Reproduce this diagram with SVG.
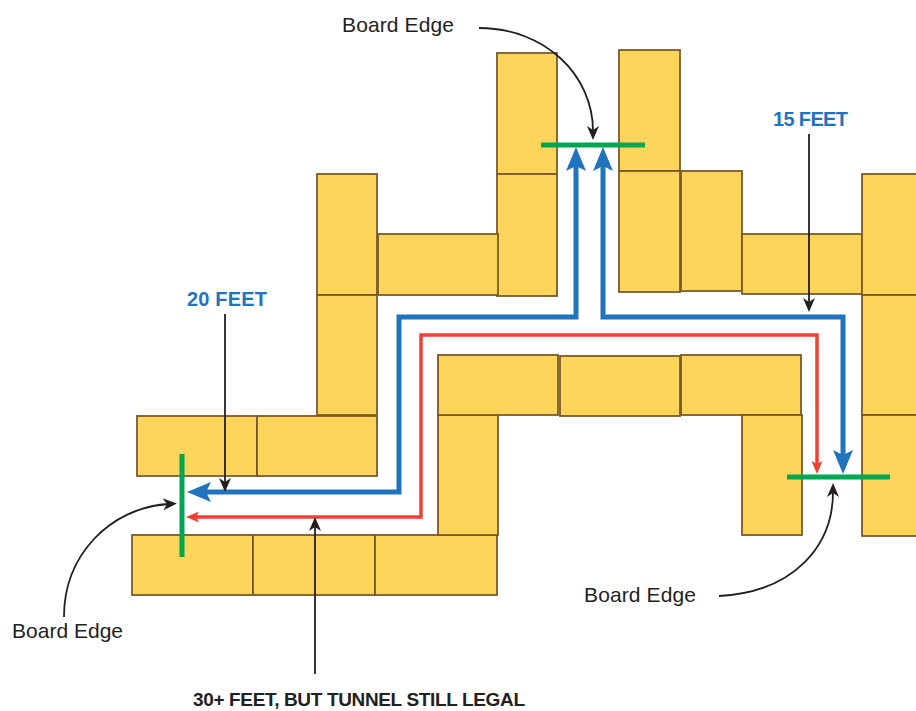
<svg xmlns="http://www.w3.org/2000/svg" width="916" height="711" viewBox="0 0 916 711">
<style>
.blk{fill:#FED55B;stroke:#7A5A2B;stroke-width:1.8}
.edge{stroke:#00A651;stroke-width:5;fill:none}
.blue{stroke:#1F74BD;stroke-width:5;fill:none;stroke-linejoin:miter}
.red{stroke:#EF4136;stroke-width:3.5;fill:none;stroke-linejoin:miter}
.ann{stroke:#231F20;stroke-width:1.8;fill:none}
.lbl{font-family:"Liberation Sans",Arial,sans-serif;font-size:21px;fill:#231F20}
.ft{font-family:"Liberation Sans",Arial,sans-serif;font-size:20px;font-weight:bold;fill:#1F74BD}
.bt{font-family:"Liberation Sans",Arial,sans-serif;font-size:19px;font-weight:bold;fill:#231F20}
</style>
<defs>
<marker id="ab" viewBox="-24 -10 24 20" markerWidth="24" markerHeight="20" refX="-17" refY="0" markerUnits="userSpaceOnUse" orient="auto-start-reverse"><path d="M0,0 L-24,-10 L-19,0 L-24,10 Z" fill="#1F74BD"/></marker>
<marker id="ar" viewBox="-13 -5.5 13 11" markerWidth="13" markerHeight="11" refX="-9" refY="0" markerUnits="userSpaceOnUse" orient="auto-start-reverse"><path d="M0,0 L-13,-5.5 L-10,0 L-13,5.5 Z" fill="#EF4136"/></marker>
<marker id="ak" viewBox="-14 -6 14 12" markerWidth="14" markerHeight="12" refX="-9" refY="0" markerUnits="userSpaceOnUse" orient="auto"><path d="M0,0 L-14,-6 L-10,0 L-14,6 Z" fill="#231F20"/></marker>
</defs>
<rect width="916" height="711" fill="#FFFFFF"/>
<g id="blocks">
<rect id="A1" class="blk" x="497" y="53" width="60" height="121"/>
<rect id="A2" class="blk" x="497" y="174" width="60" height="122"/>
<rect id="B1" class="blk" x="619" y="50" width="61" height="121"/>
<rect id="B2" class="blk" x="619" y="171" width="61" height="121"/>
<rect id="C" class="blk" x="681" y="171" width="61" height="120"/>
<rect id="D" class="blk" x="742" y="234" width="120" height="60"/>
<rect id="E1" class="blk" x="862" y="174" width="62" height="121"/>
<rect id="E2" class="blk" x="862" y="295" width="62" height="120"/>
<rect id="E3" class="blk" x="862" y="415" width="62" height="121"/>
<rect id="F1" class="blk" x="317" y="174" width="60" height="121"/>
<rect id="F2" class="blk" x="317" y="295" width="60" height="120"/>
<rect id="G" class="blk" x="378" y="234" width="120" height="61"/>
<rect id="BL1" class="blk" x="137" y="416" width="120" height="60"/>
<rect id="BL2" class="blk" x="257" y="416" width="120" height="60"/>
<rect id="BR1" class="blk" x="132" y="535" width="121" height="60"/>
<rect id="BR2" class="blk" x="253" y="535" width="122" height="60"/>
<rect id="BR3" class="blk" x="375" y="535" width="122" height="60"/>
<rect id="H" class="blk" x="438" y="415" width="60" height="120"/>
<rect id="I" class="blk" x="438" y="355" width="120" height="60"/>
<rect id="J" class="blk" x="560" y="356" width="120" height="60"/>
<rect id="K" class="blk" x="681" y="355" width="120" height="60"/>
<rect id="L" class="blk" x="742" y="415" width="60" height="120"/>
</g>
<g id="board-edges">
<line id="edge-top" class="edge" x1="541" y1="145" x2="645" y2="145"/>
<line id="edge-left" class="edge" x1="182" y1="454" x2="182" y2="557"/>
<line id="edge-right" class="edge" x1="787" y1="477" x2="890" y2="477"/>
</g>
<g id="connectors">
<path id="path-20ft" class="blue" d="M576,164 V317 H399 V492 H204" marker-start="url(#ab)" marker-end="url(#ab)"/>
<path id="path-15ft" class="blue" d="M603,164 V317 H843 V457" marker-start="url(#ab)" marker-end="url(#ab)"/>
<path id="path-30ft" class="red" d="M195,517 H421 V335 H817 V465" marker-start="url(#ar)" marker-end="url(#ar)"/>
<path class="ann" d="M809,134 V303" marker-end="url(#ak)"/>
<path class="ann" d="M225,314 V483" marker-end="url(#ak)"/>
<path class="ann" d="M315,674 V526" marker-end="url(#ak)"/>
<path class="ann" d="M479,28 C545,28 593,75 593,131" marker-end="url(#ak)"/>
<path class="ann" d="M719,596 C795,592 833,545 833,492" marker-end="url(#ak)"/>
<path class="ann" d="M64,617 C64,555 110,508 168,504" marker-end="url(#ak)"/>
</g>
<g id="labels">
<text class="lbl" x="342" y="32" textLength="112">Board Edge</text>
<text class="lbl" x="584" y="602" textLength="112">Board Edge</text>
<text class="lbl" x="12" y="638" textLength="111">Board Edge</text>
<text class="ft" x="773" y="126" textLength="75">15 FEET</text>
<text class="ft" x="187" y="306" textLength="80">20 FEET</text>
<text class="bt" x="193" y="706" textLength="332">30+ FEET, BUT TUNNEL STILL LEGAL</text>
</g>
</svg>
